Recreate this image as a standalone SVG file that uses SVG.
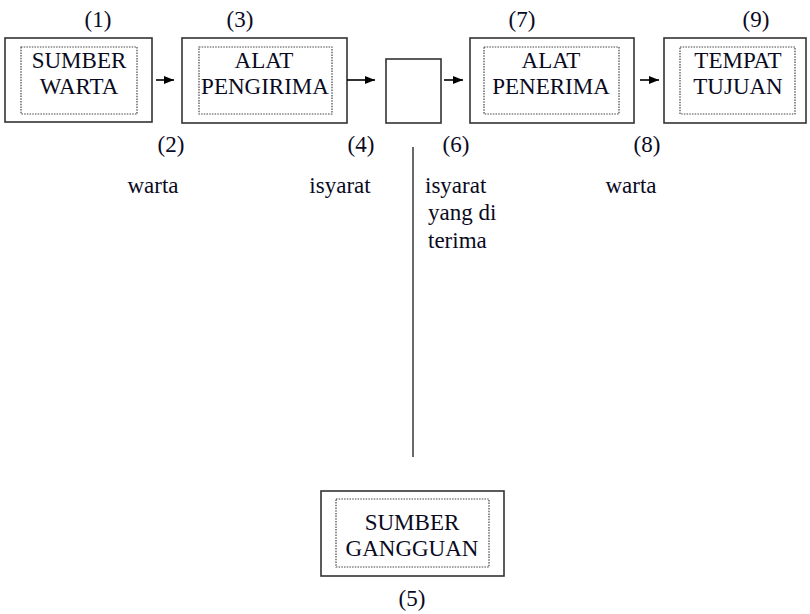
<svg xmlns="http://www.w3.org/2000/svg" width="810" height="614" viewBox="0 0 810 614">
<defs>
<marker id="ah" markerWidth="10" markerHeight="8" refX="10" refY="4" orient="auto" markerUnits="userSpaceOnUse">
<path d="M0,0 L10,4 L0,8 Z" fill="#000"/>
</marker>
<style>
text{font-family:'Liberation Serif','Times New Roman',serif;font-size:23px;fill:#0a0a1e}
.c{text-anchor:middle}
.outer{fill:#fff;stroke:#333;stroke-width:1.6}
.inner{fill:none;stroke:#444;stroke-width:1.2;stroke-dasharray:1.5 1.2}
.conn{stroke:#000;stroke-width:1.6;fill:none}
</style>
</defs>
<rect width="810" height="614" fill="#fff"/>
<g id="n1">
<rect class="outer" x="5" y="38" width="147" height="84"/>
<rect class="inner" x="21" y="47" width="116" height="67"/>
<text class="c" x="79" y="68" style="font-family:'Times New Roman','Liberation Serif',serif">SUMBER</text>
<text class="c" x="79" y="94" style="font-family:'Times New Roman','Liberation Serif',serif">WARTA</text>
<text class="c" x="98" y="27" style="font-family:'Times New Roman','Liberation Serif',serif">(1)</text>
</g>
<g id="n3">
<rect class="outer" x="182" y="38" width="165" height="85"/>
<rect class="inner" x="199" y="47" width="133" height="67"/>
<text class="c" x="264" y="68" style="font-family:'Times New Roman','Liberation Serif',serif">ALAT</text>
<text class="c" x="265" y="94" style="font-family:'Times New Roman','Liberation Serif',serif">PENGIRIMA</text>
<text class="c" x="240" y="27" style="font-family:'Times New Roman','Liberation Serif',serif">(3)</text>
</g>
<g id="nbox">
<rect class="outer" x="386" y="59" width="55" height="64"/>
</g>
<g id="n7">
<rect class="outer" x="470" y="38" width="164" height="85"/>
<rect class="inner" x="484" y="47" width="135" height="67"/>
<text class="c" x="551" y="68" style="font-family:'Times New Roman','Liberation Serif',serif">ALAT</text>
<text class="c" x="551" y="94" style="font-family:'Times New Roman','Liberation Serif',serif">PENERIMA</text>
<text class="c" x="522" y="27" style="font-family:'Times New Roman','Liberation Serif',serif">(7)</text>
</g>
<g id="n9">
<rect class="outer" x="664" y="38" width="142" height="85"/>
<rect class="inner" x="680" y="47" width="115" height="67"/>
<text class="c" x="738" y="68" style="font-family:'Times New Roman','Liberation Serif',serif">TEMPAT</text>
<text class="c" x="738" y="94" style="font-family:'Times New Roman','Liberation Serif',serif">TUJUAN</text>
<text class="c" x="756" y="27" style="font-family:'Times New Roman','Liberation Serif',serif">(9)</text>
</g>
<g id="n5">
<rect class="outer" x="321" y="491" width="183" height="85"/>
<rect class="inner" x="336" y="499" width="153" height="68"/>
<text class="c" x="412" y="530" style="font-family:'Times New Roman','Liberation Serif',serif">SUMBER</text>
<text class="c" x="412" y="556" style="font-family:'Times New Roman','Liberation Serif',serif">GANGGUAN</text>
<text class="c" x="412" y="606" style="font-family:'Times New Roman','Liberation Serif',serif">(5)</text>
</g>
<g id="labels">
<text class="c" x="171" y="152" style="font-family:'Times New Roman','Liberation Serif',serif">(2)</text>
<text class="c" x="153" y="193" style="font-family:'Times New Roman','Liberation Serif',serif">warta</text>
<text class="c" x="361" y="152" style="font-family:'Times New Roman','Liberation Serif',serif">(4)</text>
<text class="c" x="340" y="193" style="font-family:'Times New Roman','Liberation Serif',serif">isyarat</text>
<text class="c" x="456" y="152" style="font-family:'Times New Roman','Liberation Serif',serif">(6)</text>
<text x="425" y="193" style="font-family:'Times New Roman','Liberation Serif',serif">isyarat</text>
<text x="428" y="220" style="font-family:'Times New Roman','Liberation Serif',serif">yang di</text>
<text x="428" y="248" style="font-family:'Times New Roman','Liberation Serif',serif">terima</text>
<text class="c" x="647" y="152" style="font-family:'Times New Roman','Liberation Serif',serif">(8)</text>
<text class="c" x="631" y="193" style="font-family:'Times New Roman','Liberation Serif',serif">warta</text>
</g>
<g id="connectors">
<line class="conn" x1="156" y1="80" x2="174" y2="80" marker-end="url(#ah)"/>
<line class="conn" x1="347" y1="80" x2="375" y2="80" marker-end="url(#ah)"/>
<line class="conn" x1="444" y1="80" x2="463" y2="80" marker-end="url(#ah)"/>
<line class="conn" x1="640" y1="80" x2="659" y2="80" marker-end="url(#ah)"/>
<line x1="413" y1="147" x2="413" y2="457" stroke="#444" stroke-width="1.6"/>
</g>
</svg>
